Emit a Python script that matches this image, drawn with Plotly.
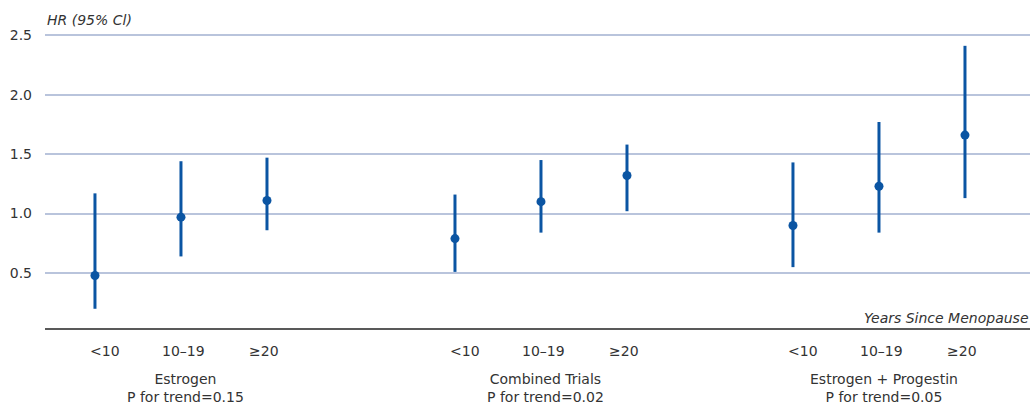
import plotly.graph_objects as go

# Hazard ratios by years since menopause, per trial arm
groups = ["Estrogen", "Combined Trials", "Estrogen + Progestin"]
trend_p = ["0.15", "0.02", "0.05"]
categories = ["<10", "10\u201319", "\u226520"]

hr = [[0.48, 0.97, 1.11],
      [0.79, 1.10, 1.32],
      [0.90, 1.23, 1.66]]
ci_low = [[0.20, 0.64, 0.86],
          [0.51, 0.84, 1.02],
          [0.55, 0.84, 1.13]]
ci_high = [[1.17, 1.44, 1.47],
           [1.16, 1.45, 1.58],
           [1.43, 1.77, 2.41]]

y_ticks = [0.5, 1.0, 1.5, 2.0, 2.5]
y_tick_text = ["0.5", "1.0", "1.5", "2.0", "2.5"]

# layout of the x positions (one unit = spacing between categories)
group_start = [0.0, 4.186, 8.116]
label_shift = [10, 3, -3]

BLUE = "#0b55a3"
TEXT = "#333333"
FONT = "DejaVu Sans"

fig = go.Figure()

xs, ys, up, dn = [], [], [], []
for g in range(len(groups)):
    for i in range(len(categories)):
        xs.append(group_start[g] + i)
        ys.append(hr[g][i])
        up.append(ci_high[g][i] - hr[g][i])
        dn.append(hr[g][i] - ci_low[g][i])

fig.add_trace(go.Scatter(
    x=xs, y=ys, mode="markers",
    marker=dict(color=BLUE, size=9),
    error_y=dict(type="data", array=up, arrayminus=dn, symmetric=False,
                 color=BLUE, thickness=3, width=0),
    hoverinfo="skip", showlegend=False,
))

annotations = []
for g in range(len(groups)):
    for i, cat in enumerate(categories):
        annotations.append(dict(
            x=group_start[g] + i, y=351, xref="x", yref="paper",
            text=cat, showarrow=False, xshift=label_shift[i],
            font=dict(family=FONT, size=14, color=TEXT),
        ))
    annotations.append(dict(
        x=group_start[g] + 1, y=388, xref="x", yref="paper",
        text=f"{groups[g]}<br>P for trend={trend_p[g]}", showarrow=False,
        xshift=5, font=dict(family=FONT, size=14, color=TEXT),
    ))

# convert pixel-ish y positions for below-axis labels into paper coordinates
plot_top, plot_bottom = 20, 329
for a in annotations:
    a["y"] = (plot_bottom - a["y"]) / (plot_bottom - plot_top)
    a["yanchor"] = "middle"

annotations.append(dict(
    x=0, y=1.0, xref="paper", yref="paper", xanchor="left", yanchor="middle",
    text="<i>HR (95% Cl)</i>", showarrow=False, yshift=0,
    font=dict(family=FONT, size=14, color=TEXT),
))
annotations.append(dict(
    x=1, y=0, xref="paper", yref="paper", xanchor="right", yanchor="bottom",
    text="<i>Years Since Menopause</i>", showarrow=False, yshift=1, xshift=1,
    font=dict(family=FONT, size=14, color=TEXT),
))

fig.update_layout(
    width=1035, height=410,
    margin=dict(l=45, r=5, t=plot_top, b=410 - plot_bottom),
    paper_bgcolor="white", plot_bgcolor="white",
    annotations=annotations,
    xaxis=dict(range=[-0.581, 10.872], showgrid=False, zeroline=False,
               showticklabels=False, showline=False),
    yaxis=dict(range=[0.03, 2.627], tickvals=y_ticks, ticktext=y_tick_text,
               showgrid=True, gridcolor="#b9c4dc", gridwidth=1.5,
               zeroline=False, showline=False, ticks="",
               ticklabelstandoff=12,
               tickfont=dict(family=FONT, size=14, color=TEXT)),
    shapes=[dict(type="line", xref="paper", yref="paper", x0=0, x1=1,
                 y0=0, y1=0, line=dict(color="#222222", width=1.5))],
)

fig.write_html("out.html")
